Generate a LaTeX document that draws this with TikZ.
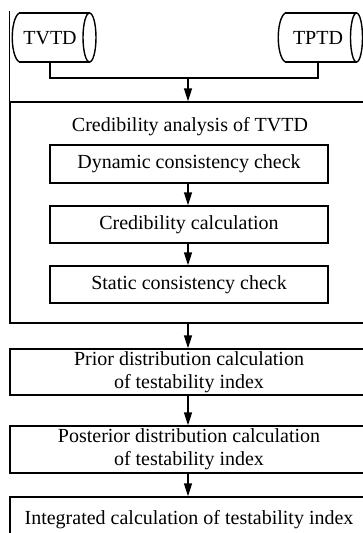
\documentclass[tikz,border=0pt]{standalone}
\usepackage{fontspec}
\setmainfont{Liberation Serif}
\usetikzlibrary{arrows.meta}
\begin{document}
\begin{tikzpicture}[x=1pt,y=-1pt,line width=1.4pt,
  every node/.style={font=\fontsize{20}{23}\selectfont, inner sep=0pt},
  inbox/.style={draw, minimum width=278pt},
  outbox/.style={draw, minimum width=358pt, align=center},
  arr/.style={-{Triangle[length=13pt,width=8pt]}},
  label/.style={minimum height=49.5pt}]
\useasboundingbox (0,0) rectangle (363,533);
\clip (0,0) rectangle (363,533);

% data sources drawn as horizontal cylinders
\node[label] (tvtd) at (50,38) {TVTD};
\draw (19,13) -- (89.5,13) (19,62) -- (89.5,62);
\draw (19,13) .. controls (10,20) and (10,55) .. (19,62);
\draw (89.5,37.5) ellipse [x radius=6.5pt, y radius=24.5pt];

\node[label] (tptd) at (318,38) {TPTD};
\draw (285,13) -- (356.5,13) (285,62) -- (356.5,62);
\draw (285,13) .. controls (276,20) and (276,55) .. (285,62);
\draw (356.5,37.5) ellipse [x radius=6pt, y radius=24.5pt];

% credibility analysis block
\node[draw, minimum width=358pt, minimum height=221pt] (cred) at (189,212.5) {};
\node (credlabel) at (190,127) {Credibility analysis of TVTD};
\node[inbox, minimum height=38pt] (dyn) at (189,164) {Dynamic consistency check};
\node[inbox, minimum height=37pt] (cal) at (189,224.5) {Credibility calculation};
\node[inbox, minimum height=37pt] (stat) at (189,284.5) {Static consistency check};

% testability index steps
\node[outbox, minimum height=46pt] (prior) at (189,372) {Prior distribution calculation\\of testability index};
\node[outbox, minimum height=47pt] (post) at (189,449.5) {Posterior distribution calculation\\of testability index};
\node[outbox, minimum height=46pt] (integ) at (189,520) {Integrated calculation of testability index};

% connectors
\coordinate (join) at (188,78);
\draw (tvtd.south) -- (tvtd.south |- join) -| (tptd.south);
\draw[arr] (join) -- (join |- cred.north);
\draw (cred.north west) -- ++(0,-90);
\draw[arr] (dyn.south -| join) -- (join |- cal.north);
\draw[arr] (cal.south -| join) -- (join |- stat.north);
\draw[arr] (cred.south -| join) -- (join |- prior.north);
\draw[arr] (prior.south -| join) -- (join |- post.north);
\draw[arr] (post.south -| join) -- (join |- integ.north);
\end{tikzpicture}
\end{document}
